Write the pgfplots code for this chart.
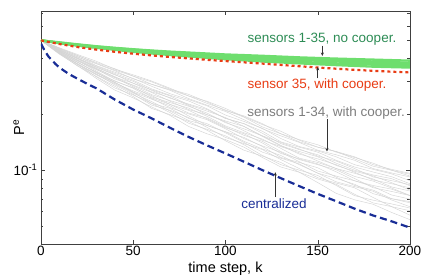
\documentclass[border=0pt]{standalone}
\usepackage{fontspec}
\setmainfont{Liberation Sans}
\usepackage{pgfplots}
\usepackage{pgfplotstable}
\pgfplotsset{compat=1.18}
\usetikzlibrary{arrows.meta}
\definecolor{cgray}{RGB}{212,212,212}
\definecolor{cgreen}{RGB}{110,222,110}
\definecolor{cred}{RGB}{232,60,20}
\definecolor{cblue}{RGB}{25,45,150}
\definecolor{tgreen}{RGB}{45,140,85}
\definecolor{tgray}{RGB}{125,125,125}

\pgfplotstableread{
k   s1     s2     s3     s4     s5     s6     s7     s8     s9     s10    s11    s12    s13    s14    s15    s16    s17    s18    s19    s20    s21    s22
0   0.5    0.5    0.5    0.5    0.5    0.5    0.5    0.5    0.5    0.5    0.5    0.5    0.5    0.5    0.5    0.5    0.5    0.5    0.5    0.5    0.5    0.5
10  0.421  0.424  0.426  0.426  0.430  0.430  0.434  0.436  0.436  0.440  0.442  0.442  0.446  0.448  0.450  0.452  0.454  0.456  0.425  0.432  0.438  0.444
20  0.365  0.363  0.371  0.373  0.373  0.379  0.381  0.389  0.387  0.390  0.398  0.397  0.400  0.408  0.406  0.414  0.413  0.419  0.370  0.382  0.392  0.402
30  0.312  0.320  0.318  0.330  0.328  0.338  0.334  0.342  0.348  0.350  0.354  0.360  0.364  0.366  0.374  0.376  0.380  0.386  0.326  0.336  0.352  0.358
40  0.270  0.283  0.277  0.288  0.297  0.297  0.303  0.301  0.315  0.310  0.317  0.328  0.332  0.337  0.343  0.346  0.352  0.350  0.292  0.295  0.319  0.326
50  0.245  0.249  0.254  0.256  0.263  0.263  0.276  0.278  0.281  0.287  0.294  0.294  0.305  0.312  0.310  0.321  0.321  0.326  0.260  0.267  0.285  0.301
60  0.219  0.215  0.229  0.224  0.229  0.241  0.243  0.252  0.248  0.262  0.264  0.271  0.274  0.283  0.290  0.290  0.299  0.302  0.234  0.245  0.255  0.269
70  0.197  0.199  0.204  0.210  0.215  0.222  0.217  0.226  0.231  0.235  0.246  0.251  0.253  0.258  0.269  0.271  0.273  0.276  0.208  0.226  0.237  0.244
80  0.172  0.183  0.179  0.192  0.190  0.196  0.201  0.203  0.216  0.212  0.223  0.225  0.236  0.240  0.243  0.251  0.256  0.251  0.185  0.210  0.221  0.227
90  0.157  0.164  0.166  0.170  0.178  0.174  0.187  0.191  0.195  0.199  0.199  0.208  0.214  0.222  0.224  0.229  0.233  0.235  0.174  0.189  0.203  0.212
100 0.146  0.144  0.153  0.150  0.159  0.161  0.167  0.171  0.173  0.182  0.184  0.192  0.190  0.198  0.207  0.211  0.209  0.215  0.161  0.169  0.180  0.190
110 0.133  0.128  0.137  0.139  0.141  0.150  0.148  0.154  0.159  0.163  0.172  0.172  0.178  0.183  0.187  0.193  0.196  0.194  0.143  0.157  0.167  0.178
120 0.117  0.119  0.120  0.129  0.125  0.134  0.135  0.143  0.147  0.145  0.152  0.153  0.162  0.168  0.167  0.171  0.178  0.176  0.130  0.140  0.153  0.158
130 0.104  0.110  0.107  0.114  0.116  0.117  0.125  0.126  0.131  0.134  0.135  0.141  0.142  0.148  0.153  0.157  0.157  0.162  0.120  0.123  0.136  0.139
140 0.0974 0.0974 0.100  0.102  0.108  0.110  0.111  0.114  0.116  0.124  0.126  0.130  0.133  0.134  0.141  0.142  0.146  0.145  0.107  0.115  0.122  0.129
150 0.0857 0.0896 0.0936 0.0910 0.0963 0.103  0.0989 0.107  0.110  0.112  0.118  0.119  0.125  0.127  0.128  0.133  0.137  0.133  0.0963 0.108  0.115  0.121
160 0.0750 0.0839 0.0827 0.0852 0.0865 0.0916 0.0929 0.1005 0.102  0.102  0.106  0.112  0.113  0.118  0.121  0.126  0.125  0.126  0.0903 0.0980 0.107  0.109
170 0.0692 0.0741 0.0729 0.0803 0.0815 0.0827 0.0876 0.0901 0.0925 0.0962 0.0986 0.102  0.104  0.107  0.113  0.115  0.117  0.118  0.0839 0.0876 0.0974 0.0999
180 0.0655 0.0666 0.0689 0.0712 0.0770 0.0781 0.0816 0.0804 0.0873 0.0896 0.0931 0.0919 0.0977 0.101  0.102  0.105  0.109  0.107  0.0747 0.0827 0.0885 0.0942
190 0.0592 0.0636 0.0658 0.0636 0.0691 0.0702 0.0735 0.0768 0.0801 0.0812 0.0856 0.0878 0.0922 0.0955 0.0966 0.0999 0.0999 0.101  0.0702 0.0790 0.0845 0.0900
200 0.0541 0.0572 0.0625 0.0604 0.0635 0.0667 0.0698 0.0730 0.0730 0.0772 0.0782 0.0835 0.0845 0.0877 0.0919 0.0929 0.0950 0.0961 0.0677 0.0730 0.0803 0.0824
}\graytab

\pgfplotstableread{
k   g1    g2    g3    g4    g5
0   0.500 0.500 0.500 0.500 0.500
10  0.488 0.486 0.485 0.484 0.483
20  0.476 0.474 0.472 0.470 0.468
30  0.465 0.463 0.461 0.459 0.456
40  0.456 0.454 0.451 0.448 0.445
50  0.448 0.446 0.442 0.438 0.434
60  0.441 0.439 0.435 0.430 0.425
70  0.435 0.432 0.428 0.422 0.417
80  0.430 0.427 0.422 0.416 0.410
90  0.425 0.421 0.416 0.409 0.403
100 0.420 0.415 0.410 0.402 0.396
120 0.413 0.406 0.400 0.392 0.385
140 0.405 0.399 0.392 0.383 0.376
160 0.399 0.392 0.385 0.376 0.368
180 0.394 0.385 0.378 0.370 0.361
200 0.389 0.379 0.372 0.364 0.357
}\greentab

\begin{document}
\begin{tikzpicture}
\begin{axis}[
  scale only axis, width=369pt, height=233pt,
  xmin=0, xmax=200, ymin=0.04, ymax=0.72, ymode=log,
  xtick={0,50,100,150,200},
  ytick={0.1}, yticklabels={10\textsuperscript{-1}},
  minor ytick={0.05,0.06,0.07,0.08,0.09,0.2,0.3,0.4,0.5,0.6,0.7},
  tick align=inside, major tick length=4pt, minor tick length=2.5pt,
  axis line style={black!75}, tick style={black!75},
  /pgf/number format/assume math mode=true,
  tick label style={font=\fontsize{13.5}{15}\selectfont},
  xticklabel style={yshift=1pt},
  xlabel={time step, k}, ylabel={P\textsuperscript{e}},
  label style={font=\fontsize{14.5}{16}\selectfont},
  xlabel style={at={(axis description cs:0.5,-0.105)}, anchor=center},
  ylabel style={at={(axis description cs:-0.06,0.5)}, anchor=center},
  clip=true,
]
\pgfplotsinvokeforeach{1,...,22}{
  \addplot[cgray, line width=0.45pt, no markers] table[x=k, y=s#1] {\graytab};
}
\pgfplotsinvokeforeach{1,...,5}{
  \addplot[cgreen, line width=2.3pt, no markers] table[x=k, y=g#1] {\greentab};
}
\addplot[cred, line width=2.2pt, dash pattern=on 3pt off 3pt, no markers] coordinates {
(0,0.500)(10,0.478)(20,0.460)(30,0.446)(40,0.434)(50,0.424)(60,0.415)(70,0.407)(80,0.400)(90,0.393)(100,0.387)(110,0.381)(120,0.375)(130,0.369)(140,0.363)(150,0.357)(160,0.352)(170,0.347)(180,0.343)(190,0.339)(200,0.336)
};
\addplot[cblue, line width=2.2pt, dash pattern=on 7pt off 4pt, no markers] coordinates {
(0,0.480)(2,0.440)(4,0.410)(6,0.390)(8,0.372)(10,0.357)(15,0.330)(20,0.310)(25,0.292)(30,0.276)(40,0.240)(50,0.212)(60,0.190)(70,0.169)(80,0.151)(90,0.136)(100,0.123)(110,0.111)(120,0.100)(130,0.0905)(140,0.082)(150,0.0745)(160,0.068)(170,0.062)(180,0.057)(190,0.053)(200,0.049)
};
\node[text=tgreen, font=\fontsize{13.5}{15}\selectfont] at (axis cs:152.3,0.506) {sensors 1-35, no cooper.};
\draw[black!80, line width=0.5pt, -{Stealth[length=3.5pt,width=3pt]}] (axis cs:152.5,0.468) -- (axis cs:152.5,0.412);
\node[text=cred, font=\fontsize{13.5}{15}\selectfont] at (axis cs:149.6,0.286) {sensor 35, with cooper.};
\draw[black!80, line width=0.5pt, -{Stealth[length=3.5pt,width=3pt]}] (axis cs:150,0.312) -- (axis cs:150,0.360);
\node[text=tgray, font=\fontsize{13.5}{15}\selectfont] at (axis cs:154.5,0.202) {sensors 1-34, with cooper.};
\draw[black!80, line width=0.5pt, -{Stealth[length=3.5pt,width=3pt]}] (axis cs:155,0.188) -- (axis cs:155,0.126);
\node[text=cblue, font=\fontsize{13.5}{15}\selectfont] at (axis cs:126.3,0.0656) {centralized};
\draw[black!80, line width=0.5pt, -{Stealth[length=3.5pt,width=3pt]}] (axis cs:127,0.0716) -- (axis cs:127,0.0975);
\end{axis}
\pgfresetboundingbox
\useasboundingbox (-41pt,-33pt) rectangle (388pt,244pt);
\end{tikzpicture}
\end{document}
